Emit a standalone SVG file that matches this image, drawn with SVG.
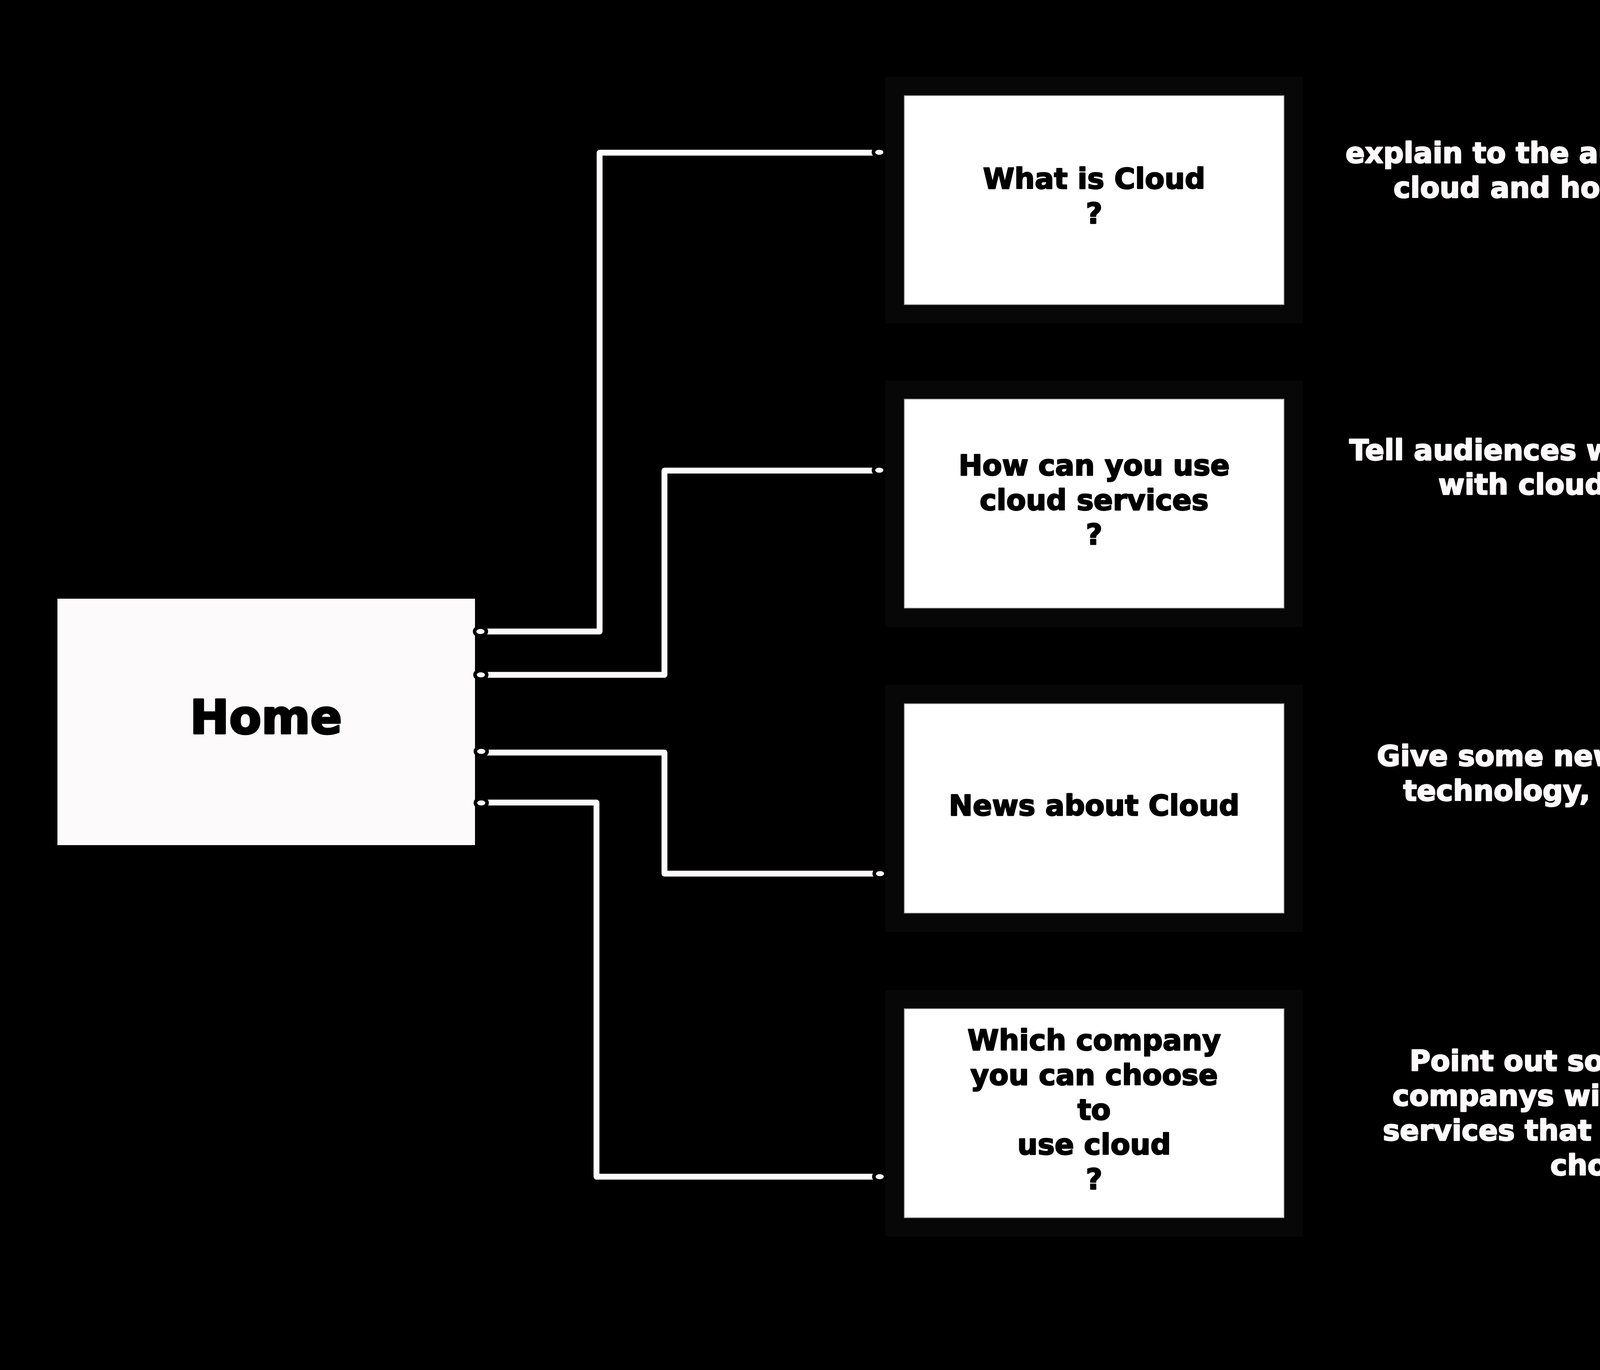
<svg xmlns="http://www.w3.org/2000/svg" width="4961" height="3508" viewBox="0 0 4961 3508">
<style>
.frame{fill:#070707}
.box{fill:#ffffff;stroke:#9a9a9a;stroke-width:2}
.home{fill:#fdfafb}
.t{font-family:"DejaVu Sans",sans-serif;font-weight:bold;font-size:73px;text-anchor:middle;stroke-width:3;stroke-linejoin:round}
.dark{fill:#000000;stroke:#000000}
.light{fill:#fdfafb;stroke:#fdfafb}
.conn{fill:none;stroke:#fdfafb;stroke-width:15;stroke-linejoin:round;stroke-linecap:round}
.dot{fill:#fdfafb;stroke:#000000;stroke-width:9}
</style>
<rect x="0" y="0" width="4961" height="3508" fill="#000000"/>
<g id="home">
<rect class="home" x="147" y="1533" width="1069" height="631"/>
<text class="t dark" x="681" y="1878" style="font-size:120px;stroke-width:5">Home</text>
</g>
<g id="node-what">
<rect class="frame" x="2267" y="197" width="1068" height="631"/>
<rect class="box" x="2315" y="245" width="972" height="535"/>
<text class="t dark" x="2801" y="483">What is Cloud</text>
<text class="t dark" x="2801" y="572">?</text>
</g>
<g id="node-how">
<rect class="frame" x="2267" y="974" width="1068" height="631"/>
<rect class="box" x="2315" y="1022" width="972" height="535"/>
<text class="t dark" x="2801" y="1217">How can you use</text>
<text class="t dark" x="2801" y="1306">cloud services</text>
<text class="t dark" x="2801" y="1394">?</text>
</g>
<g id="node-news">
<rect class="frame" x="2267" y="1754" width="1068" height="632"/>
<rect class="box" x="2315" y="1802" width="972" height="536"/>
<text class="t dark" x="2801" y="2088">News about Cloud</text>
</g>
<g id="node-which">
<rect class="frame" x="2267" y="2535" width="1068" height="631"/>
<rect class="box" x="2315" y="2583" width="972" height="535"/>
<text class="t dark" x="2801" y="2689">Which company</text>
<text class="t dark" x="2801" y="2778">you can choose</text>
<text class="t dark" x="2801" y="2867">to</text>
<text class="t dark" x="2801" y="2956">use cloud</text>
<text class="t dark" x="2801" y="3045">?</text>
</g>
<g id="desc-what">
<text class="t light" x="4113" y="417">explain to the audiences what is</text>
<text class="t light" x="4113" y="506">cloud and how that works.</text>
</g>
<g id="desc-how">
<text class="t light" x="4113" y="1178">Tell audiences what they can do</text>
<text class="t light" x="4113" y="1266">with cloud nowadays</text>
</g>
<g id="desc-news">
<text class="t light" x="4113" y="1961">Give some news about cloud</text>
<text class="t light" x="4113" y="2050">technology, and put links</text>
</g>
<g id="desc-which">
<text class="t light" x="4113" y="2742">Point out some realiable</text>
<text class="t light" x="4113" y="2831">companys with good cloud</text>
<text class="t light" x="4113" y="2920">services that audiences can</text>
<text class="t light" x="4113" y="3009">choose</text>
</g>
<g id="connectors">
<path class="conn" d="M1230,1617 H1535 V391 H2251"/>
<path class="conn" d="M1231,1728 H1701 V1205 H2251"/>
<path class="conn" d="M1232,1927 H1701 V2237 H2252"/>
<path class="conn" d="M1232,2055 H1527 V3013 H2252"/>
<ellipse class="dot" cx="1230" cy="1617" rx="15" ry="11"/>
<ellipse class="dot" cx="1231" cy="1728" rx="15" ry="11"/>
<ellipse class="dot" cx="1232" cy="1924" rx="15" ry="11"/>
<ellipse class="dot" cx="1232" cy="2056" rx="15" ry="11"/>
<ellipse class="dot" cx="2251" cy="390" rx="15" ry="11"/>
<ellipse class="dot" cx="2251" cy="1204" rx="15" ry="11"/>
<ellipse class="dot" cx="2253" cy="2237" rx="15" ry="11"/>
<ellipse class="dot" cx="2252" cy="3013" rx="15" ry="11"/>
</g>
</svg>
